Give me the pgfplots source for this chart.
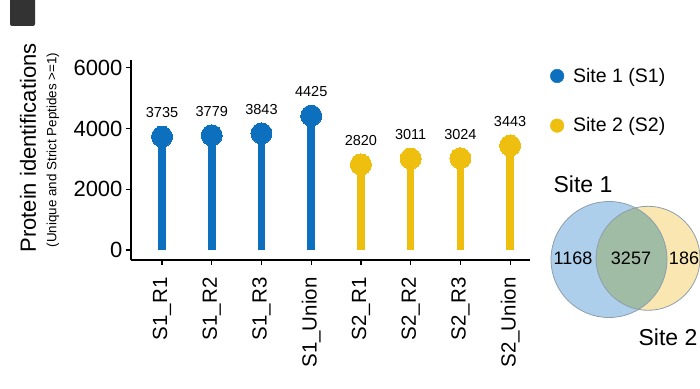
\documentclass[border=0pt]{standalone}
\usepackage{pgfplots}
\pgfplotsset{compat=1.18}
\usepackage{fontspec}
\setmainfont{Liberation Sans}
\definecolor{cblue}{RGB}{12,112,190}
\definecolor{cyel}{RGB}{238,191,14}
\definecolor{vblue}{RGB}{174,207,236}
\definecolor{vyel}{RGB}{250,230,176}
\definecolor{vmix}{RGB}{160,188,165}
\definecolor{vedge}{RGB}{140,158,172}
\begin{document}
\begin{tikzpicture}[x=1pt,y=1pt]
\useasboundingbox (0,0) rectangle (700,388);
\fill[black!80, rounded corners=2pt] (10,362) rectangle (35,392);
% Venn diagram
\begin{axis}[at={(0pt,0pt)}, anchor=south west, scale only axis, width=700pt, height=388pt,
  xmin=0, xmax=700, ymin=0, ymax=388, hide axis]
\path[fill=vyel] (axis cs:648,129.7) circle[radius=52];
\path[fill=vblue] (axis cs:609,128.5) circle[radius=58];
\begin{scope}
\clip (axis cs:648,129.7) circle[radius=52];
\path[fill=vmix] (axis cs:609,128.5) circle[radius=58];
\end{scope}
\draw[vedge, line width=0.8pt] (axis cs:648,129.7) circle[radius=52];
\draw[vedge, line width=0.8pt] (axis cs:609,128.5) circle[radius=58];
\end{axis}
% main lollipop chart
\begin{axis}[at={(131pt,128pt)}, anchor=south west, scale only axis, width=399pt, height=200pt,
  xmin=0.376, xmax=8.4, ymin=-330, ymax=6260, clip=false,
  axis lines*=left, axis line style={line width=1.6pt, black},
  tick align=outside, major tick length=5pt, tick style={black, line width=1.2pt},
  ytick={0,2000,4000,6000}, xtick={1,...,8},
  xticklabels={S1\_R1,S1\_R2,S1\_R3,S1\_Union,S2\_R1,S2\_R2,S2\_R3,S2\_Union},
  /pgf/number format/assume math mode=true, /pgf/number format/1000 sep={},
  scaled y ticks=false,
  yticklabel style={font=\fontsize{22}{24}\selectfont},
  xticklabel shift=9pt,
  xticklabel style={rotate=90, anchor=east, font=\fontsize{20.5}{22}\selectfont},
  legend image code/.code={\fill[#1] (0pt,0pt) circle (6.8pt);},
  legend style={at={(axis description cs:1.05,0.97)}, anchor=north west, draw=none, fill=none,
    inner sep=0pt, row sep=30pt, column sep=7pt, font=\fontsize{19.5}{21}\selectfont},
  legend cell align=left,
  nodes near coords style={anchor=south, inner sep=0pt, yshift=19pt, text=black, font=\fontsize{14.5}{16}\selectfont},
]
\addplot[ycomb, cblue, line width=7.5pt, mark=*, mark size=10.5pt,
  mark options={line width=0pt, fill=cblue, draw=cblue}, nodes near coords, forget plot]
  coordinates {(1,3735) (2,3779) (3,3843) (4,4425)};
\addplot[ycomb, cyel, line width=7.5pt, mark=*, mark size=10.5pt,
  mark options={line width=0pt, fill=cyel, draw=cyel}, nodes near coords, forget plot]
  coordinates {(5,2820) (6,3011) (7,3024) (8,3443)};
\addlegendimage{cblue}
\addlegendentry{Site 1 (S1)}
\addlegendimage{cyel}
\addlegendentry{Site 2 (S2)}
\end{axis}
\node[rotate=90, font=\fontsize{22}{24}\selectfont] at (28,240) {Protein identifications};
\node[rotate=90, font=\fontsize{13.4}{15}\selectfont] at (53,238) {(Unique and Strict Peptides >=1)};
\node[font=\fontsize{23}{25}\selectfont] at (583,204) {Site 1};
\node[font=\fontsize{23}{25}\selectfont] at (668,51) {Site 2};
\node[font=\fontsize{18}{20}\selectfont] at (573,129.5) {1168};
\node[font=\fontsize{18}{20}\selectfont] at (631,129.5) {3257};
\node[font=\fontsize{18}{20}\selectfont] at (684,129.5) {186};
\end{tikzpicture}
\end{document}
